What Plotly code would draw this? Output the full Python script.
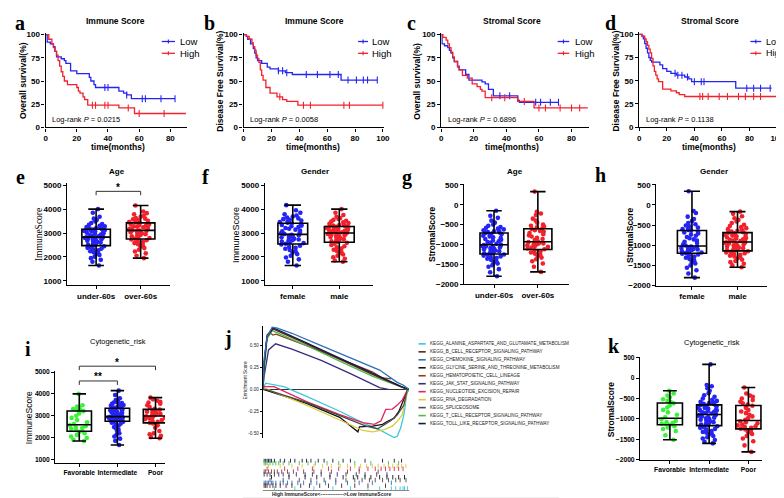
import numpy as np
import plotly.graph_objects as go

W, H = 784, 498
SANS = "Liberation Sans, Arial, sans-serif"
SERIF = "Liberation Serif, Times New Roman, serif"

# ---------------- KM data ----------------
a_low_t = [0, 1, 3, 5, 6, 7, 10, 12, 13, 16, 20, 28, 29, 31, 32, 47, 50, 52, 55, 83]
a_low_s = [100, 92, 90, 87, 82, 76, 74, 72, 69, 61, 58, 54, 50, 46, 43, 39, 37, 35, 31, 31]
a_low_c = [38, 40, 52, 62, 64, 74, 83]
a_high_t = [0, 2, 4, 5, 6, 7, 8, 9, 10, 11, 12, 14, 20, 21, 22, 24, 25, 27, 47, 57, 90]
a_high_s = [100, 95, 90, 86, 82, 78, 72, 66, 60, 55, 50, 46, 43, 39, 37, 33, 30, 24, 21, 15, 15]
a_high_c = [30, 32, 38, 40, 53, 60, 76]

b_low_t = [0, 2, 3, 5, 7, 8, 9, 10, 13, 17, 19, 25, 30, 35, 70, 96]
b_low_s = [100, 98, 95, 90, 85, 80, 75, 72, 69, 65, 63, 61, 59, 57, 51, 51]
b_low_c = [25, 28, 31, 45, 53, 62, 68, 75, 81, 86, 89, 96]
b_high_t = [0, 2, 4, 6, 7, 8, 9, 10, 11, 12, 13, 14, 16, 19, 24, 28, 31, 39, 100]
b_high_s = [100, 98, 95, 91, 87, 83, 78, 74, 70, 62, 56, 51, 43, 37, 33, 30, 28, 24, 24]
b_high_c = [26, 43, 48, 72, 76, 100]

c_low_t = [0, 0.5, 2, 4, 5, 6, 7, 8, 10, 11, 15, 17, 25, 27, 29, 32, 47, 48, 72]
c_low_s = [100, 90, 88, 86, 83, 80, 75, 71, 66, 62, 57, 51, 49, 47, 41, 34, 29, 27, 27]
c_low_c = [36, 42, 58, 61, 67, 72]
c_high_t = [0, 1, 3, 4, 5, 6, 7, 8, 10, 11, 13, 16, 19, 22, 24, 25, 27, 47, 57, 90]
c_high_s = [100, 97, 94, 90, 86, 81, 76, 71, 65, 62, 56, 53, 47, 44, 41, 39, 32, 28, 21, 21]
c_high_c = [31, 39, 51, 60, 64, 73, 80, 85]

d_low_t = [0, 2, 3, 4, 5, 6, 7, 8, 9, 15, 17, 20, 23, 27, 33, 36, 38, 70, 96]
d_low_s = [100, 98, 95, 90, 85, 80, 75, 72, 70, 67, 63, 60, 58, 56, 54, 52, 49, 42, 42]
d_low_c = [26, 28, 31, 35, 40, 45, 47, 78, 83, 88, 95]
d_high_t = [0, 2, 4, 5, 6, 7, 8, 9, 10, 11, 12, 13, 14, 17, 23, 27, 29, 33, 100]
d_high_s = [100, 98, 95, 92, 88, 84, 80, 74, 66, 60, 56, 52, 49, 41, 39, 37, 35, 33, 33]
d_high_c = [44, 46, 50, 58, 64, 72, 77, 83, 88, 100]

km_titles = ["Immune Score", "Immune Score", "Stromal Score", "Stromal Score"]
km_ylabels = ["Overall survival(%)", "Disease Free Survival(%)", "Overall survival(%)", "Disease Free Survival(%)"]
km_pvalues = ["0.0215", "0.0058", "0.6896", "0.1138"]
km_legend = ["Low", "High"]

# ---------------- box data ----------------
age_cats = ["under-60s", "over-60s"]
gender_cats = ["female", "male"]
risk_cats = ["Favorable", "Intermediate", "Poor"]

e_under = [1640,1800,1880,1950,2010,2080,2120,2150,2200,2240,2280,2310,2350,2380,2420,2450,
           2480,2510,2540,2560,2600,2620,2650,2680,2700,2720,2740,2760,2780,2790,2810,2820,
           2840,2860,2890,2910,2940,2960,2990,3010,3040,3060,3080,3090,3110,3120,3140,3150,
           3170,3180,3200,3230,3250,3280,3300,3340,3380,3420,3480,3550,3600,3680,3850,4000]
e_over = [1950,2050,2150,2230,2300,2370,2430,2480,2530,2580,2620,2660,2700,2730,
          2760,2790,2820,2860,2890,2920,2950,2980,3010,3030,3050,3070,3090,3100,
          3120,3140,3170,3190,3210,3240,3260,3280,3310,3330,3360,3380,3400,3420,
          3440,3460,3490,3510,3540,3570,3600,3630,3680,3720,3780,3830,3900,4150]
f_female = [1640,1800,1900,1980,2050,2120,2180,2240,2290,2340,2380,2420,2470,2520,
            2550,2580,2610,2640,2670,2700,2730,2760,2790,2820,2850,2880,2910,2930,
            2960,2990,3030,3070,3100,3140,3180,3210,3250,3280,3310,3340,3370,3400,
            3430,3460,3490,3520,3550,3580,3610,3650,3690,3730,3780,3850,3950,4165]
f_male = [1800,1850,1920,1990,2050,2100,2150,2200,2250,2300,2350,2400,2450,2500,2550,2590,
          2620,2650,2680,2710,2740,2770,2800,2830,2860,2880,2900,2920,2940,2960,2980,2990,
          3010,3030,3050,3070,3090,3110,3130,3150,3170,3190,3210,3220,3230,3250,3260,3270,
          3290,3310,3330,3360,3390,3420,3450,3480,3510,3550,3590,3630,3680,3750,3850,4000]
g_under = [-1800,-1700,-1620,-1560,-1520,-1480,-1450,-1420,-1390,-1360,-1340,-1320,-1300,-1280,-1260,-1250,
           -1235,-1220,-1200,-1185,-1170,-1150,-1135,-1120,-1100,-1090,-1075,-1060,-1050,-1040,-1025,-1015,
           -1000,-980,-960,-940,-920,-900,-880,-860,-840,-820,-800,-780,-760,-745,-730,-715,
           -700,-685,-670,-655,-640,-620,-600,-580,-560,-530,-500,-450,-400,-330,-280,-150]
g_over = [-1690,-1560,-1480,-1420,-1370,-1330,-1290,-1260,-1230,-1200,-1170,-1145,
          -1120,-1100,-1080,-1060,-1040,-1020,-1000,-990,-975,-960,-950,-940,
          -920,-890,-860,-830,-800,-770,-740,-710,-680,-660,-640,-610,
          -590,-570,-550,-530,-500,-450,-400,-350,-260,-220,-180,330]
h_female = [-1805,-1700,-1620,-1560,-1500,-1450,-1410,-1370,-1340,-1310,-1280,-1250,-1230,-1210,
            -1195,-1180,-1165,-1150,-1135,-1120,-1105,-1090,-1080,-1070,-1060,-1050,-1040,-1030,
            -1005,-975,-945,-915,-885,-855,-825,-795,-765,-735,-705,-680,-660,-640,
            -620,-600,-580,-560,-535,-510,-480,-450,-400,-350,-290,-200,-150,340]
h_male = [-1545,-1500,-1460,-1420,-1390,-1360,-1330,-1300,-1280,-1260,-1240,-1220,-1200,-1180,-1165,-1150,
          -1135,-1120,-1105,-1090,-1075,-1060,-1045,-1030,-1015,-1000,-985,-970,-955,-945,-935,-925,
          -910,-895,-880,-865,-850,-835,-820,-805,-790,-775,-760,-745,-730,-715,-700,-690,
          -675,-660,-640,-620,-600,-575,-550,-520,-490,-450,-410,-370,-330,-280,-220,-165]
i_fav = [1840,1900,1980,2050,2120,2200,2260,2300,2350,2400,2440,2480,2520,2560,
         2620,2700,2800,2900,3000,3100,3210,3250,3280,3310,3350,3420,3480,4000]
i_int = [1660,1850,1950,2050,2130,2200,2280,2350,2420,2480,2540,2590,2640,2680,2710,2730,
         2750,2770,2790,2810,2830,2850,2860,2870,2880,2890,2900,2910,2920,2930,2940,2950,
         2970,2990,3010,3040,3070,3100,3130,3160,3190,3210,3230,3250,3270,3290,3320,3340,
         3360,3380,3400,3430,3460,3490,3520,3550,3580,3610,3640,3680,3720,3800,3950,4150]
i_poor = [1970,2020,2080,2150,2200,2300,2450,2560,2650,2680,2720,2760,2800,2840,2880,2910,2940,2970,
          3000,3040,3080,3110,3150,3180,3220,3250,3280,3320,3400,3480,3550,3600,3640,3690,3750,3830]
k_fav = [-1510,-1400,-1300,-1250,-1210,-1180,-1150,-1140,-1130,-1120,-1100,-1080,-1050,-1010,
         -960,-900,-840,-780,-720,-670,-620,-590,-560,-520,-470,-430,-380,-310]
k_int = [-1600,-1560,-1520,-1480,-1450,-1420,-1390,-1360,-1340,-1320,-1300,-1270,-1250,-1220,-1200,-1180,
         -1160,-1140,-1120,-1100,-1080,-1060,-1040,-1020,-1000,-985,-970,-955,-940,-925,-910,-900,
         -885,-870,-855,-840,-825,-810,-795,-780,-765,-750,-735,-720,-705,-690,-675,-660,
         -645,-630,-615,-600,-580,-560,-530,-500,-460,-420,-370,-310,-250,-200,-170,335]
k_poor = [-1810,-1650,-1550,-1480,-1420,-1370,-1330,-1290,-1260,-1240,-1220,-1200,-1180,-1160,-1140,-1110,-1085,-1060,
          -1020,-980,-940,-900,-860,-820,-780,-730,-680,-650,-620,-580,-540,-500,-460,-430,-380,-230]

# ---------------- GSEA data ----------------
pathways = ["KEGG_ALANINE_ASPARTATE_AND_GLUTAMATE_METABOLISM", "KEGG_B_CELL_RECEPTOR_SIGNALING_PATHWAY",
            "KEGG_CHEMOKINE_SIGNALING_PATHWAY", "KEGG_GLYCINE_SERINE_AND_THREONINE_METABOLISM",
            "KEGG_HEMATOPOIETIC_CELL_LINEAGE", "KEGG_JAK_STAT_SIGNALING_PATHWAY",
            "KEGG_NUCLEOTIDE_EXCISION_REPAIR", "KEGG_RNA_DEGRADATION", "KEGG_SPLICEOSOME",
            "KEGG_T_CELL_RECEPTOR_SIGNALING_PATHWAY", "KEGG_TOLL_LIKE_RECEPTOR_SIGNALING_PATHWAY"]
pathway_colors = ["#3cc8dc", "#5a2626", "#2f6fb8", "#141414", "#8a4222", "#3a2a80",
                  "#e3245e", "#d8cc3c", "#4a4a4a", "#4cbb48", "#15193f"]

es_x_alanine = [0, 2, 14.4, 30, 52.7, 70.7, 79.7, 85.4, 89.9, 92.1, 94.4, 96.6, 98.9, 100]
es_y_alanine = [0, 0.07, 0.03, -0.08, -0.25, -0.40, -0.46, -0.515, -0.55, -0.535, -0.44, -0.29, -0.01, 0]
es_x_bcell = [0, 1, 3, 7, 30, 53, 75, 96, 100]
es_y_bcell = [0, 0.28, 0.60, 0.69, 0.52, 0.34, 0.17, 0.02, 0]
es_x_chemokine = [0, 1, 3, 6.5, 10, 20, 40, 60, 80, 92, 96, 100]
es_y_chemokine = [0, 0.35, 0.60, 0.71, 0.70, 0.64, 0.50, 0.36, 0.22, 0.08, 0.05, 0]
es_x_glycine = [0, 2, 30, 52.7, 65.1, 66.2, 75.2, 82, 85.4, 89.9, 93.2, 97.7, 100]
es_y_glycine = [0, -0.01, -0.16, -0.32, -0.485, -0.43, -0.42, -0.40, -0.365, -0.33, -0.25, -0.065, 0]
es_x_hemato = [0, 1, 3, 5.5, 7, 9, 30, 53, 75, 82, 88]
es_y_hemato = [0, 0.30, 0.60, 0.64, 0.62, 0.63, 0.50, 0.35, 0.20, 0.13, 0.12]
es_x_jak = [0, 1, 4, 8.8, 20, 40, 60, 73, 80, 86]
es_y_jak = [0, 0.15, 0.45, 0.52, 0.46, 0.33, 0.18, 0.07, 0.02, 0]
es_x_nucleotide = [0, 1, 7.7, 30, 52.7, 68.5, 76.4, 80.9, 84.2, 88.7, 92.1, 95.5, 98.9, 100]
es_y_nucleotide = [0, 0.03, 0.03, -0.14, -0.29, -0.38, -0.40, -0.36, -0.23, -0.225, -0.18, -0.12, -0.01, 0]
es_x_rna = [0, 2, 7.7, 30, 52.7, 68.5, 75.2, 83.1, 88.7, 92.1, 95.5, 98.9, 100]
es_y_rna = [0, 0.01, -0.03, -0.18, -0.35, -0.47, -0.485, -0.46, -0.42, -0.365, -0.29, -0.03, 0]
es_x_splice = [0, 2, 30, 52.7, 70.7, 78.6, 83.1, 87.6, 92.1, 96.6, 98.9, 100]
es_y_splice = [0, 0.0, -0.15, -0.30, -0.42, -0.45, -0.40, -0.36, -0.29, -0.18, 0, 0]
es_x_tcell = [0, 1, 3, 6.5, 30, 53, 75, 96, 100]
es_y_tcell = [0, 0.22, 0.58, 0.67, 0.50, 0.32, 0.15, 0.02, -0.01]
es_x_toll = [0, 1, 3, 7.5, 30, 53, 75, 95, 100]
es_y_toll = [0, 0.30, 0.62, 0.70, 0.53, 0.35, 0.18, 0.03, 0]

hits_alanine = [8, 22, 35, 48, 60, 72, 80, 88, 91, 94, 96, 97, 99]
hits_bcell = [1, 2, 3, 5, 7, 9, 12, 16, 20, 26, 32, 39, 45, 54, 63, 72, 84]
hits_chemokine = [1, 2, 3, 4, 6, 7, 9, 12, 14, 17, 20, 24, 28, 33, 37, 43, 50, 58, 66, 75, 88]
hits_glycine = [6, 18, 29, 37, 46, 55, 62, 65, 70, 74, 80, 85, 89, 93, 97]
hits_hemato = [1, 2, 4, 6, 8, 10, 13, 17, 21, 28, 35, 40, 47, 58, 66, 79]
hits_jak = [1, 3, 5, 8, 11, 14, 18, 23, 29, 34, 40, 46, 51, 57, 64, 70, 78, 85]
hits_nucleotide = [3, 15, 24, 34, 45, 52, 60, 66, 72, 77, 81, 84, 87, 90, 93, 96]
hits_rna = [4, 12, 20, 27, 35, 41, 47, 53, 58, 63, 67, 71, 75, 79, 83, 86, 89, 92, 95, 98]
hits_splice = [5, 14, 25, 33, 42, 50, 57, 63, 68, 73, 77, 82, 86, 91, 94, 98]
hits_tcell = [1, 2, 3, 5, 7, 9, 11, 14, 18, 25, 31, 36, 44, 52, 63, 74, 86, 93]
hits_toll = [1, 2, 3, 4, 5, 6, 8, 12, 15, 19, 22, 27, 30, 33, 38, 42, 48, 55, 60, 70, 82, 90, 95]
rug_row_order = [10, 9, 7, 6, 4, 5, 3, 8, 2, 1, 0]

BLUE, RED, GREEN = "#2424f4", "#f2222c", "#3cf03c"

# ---------------- helpers ----------------
def lin(p0, v0, p1, v1, v):
    return p0 + (v - v0) * (p1 - p0) / (v1 - v0)

def xdom(p0, v0, p1, v1, r):
    return [lin(p0, v0, p1, v1, r[0]) / W, lin(p0, v0, p1, v1, r[1]) / W]

def ydom(p0, v0, p1, v1, r):
    return [1 - lin(p0, v0, p1, v1, r[0]) / H, 1 - lin(p0, v0, p1, v1, r[1]) / H]

def px(x):
    return x / W

def py(y):
    return 1 - y / H

def sfx(n):
    return "" if n == 1 else str(n)

fig = go.Figure()
layout = dict(width=W, height=H, margin=dict(l=0, r=0, t=0, b=0), paper_bgcolor="white",
              plot_bgcolor="white", showlegend=False, boxmode="overlay")
annotations, shapes = [], []

def axis_style(size=8, bold=True):
    return dict(showline=True, linecolor="black", linewidth=1.3, ticks="outside", ticklen=3,
                tickwidth=1.2, tickcolor="black", showgrid=False, zeroline=False, tickangle=0,
                tickfont=dict(family=SANS, size=size, color="black", weight="bold" if bold else "normal"))

def add_text(text, x, y, size, family=SANS, bold=False, angle=0, xanchor="center", italic=False, color="black"):
    annotations.append(dict(text=text, x=px(x), y=py(y), xref="paper", yref="paper", showarrow=False,
                            xanchor=xanchor, yanchor="middle", textangle=angle,
                            font=dict(family=family, size=size, color=color,
                                      weight="bold" if bold else "normal",
                                      style="italic" if italic else "normal")))

def add_line(x0, y0, x1, y1, color="black", width=1.2):
    shapes.append(dict(type="line", xref="paper", yref="paper", x0=px(x0), y0=py(y0),
                       x1=px(x1), y1=py(y1), line=dict(color=color, width=width)))

# ---------------- KM panels ----------------
km_specs = [
    (1, (36, 0, 162, 80), [0, 90.5], (118.3, 0, 24, 100), [0, 80]),
    (2, (236, 0, 376.7, 100), [0, 101], (118.3, 0, 24, 100), [0, 100]),
    (3, (435.7, 0, 567.3, 80), [0, 90.5], (118.3, 0, 24, 100), [0, 80]),
    (4, (635.7, 0, 775, 100), [0, 101], (118, 0, 23.7, 100), [0, 100]),
]
km_data = [
    [(a_low_t, a_low_s, a_low_c), (a_high_t, a_high_s, a_high_c)],
    [(b_low_t, b_low_s, b_low_c), (b_high_t, b_high_s, b_high_c)],
    [(c_low_t, c_low_s, c_low_c), (c_high_t, c_high_s, c_high_c)],
    [(d_low_t, d_low_s, d_low_c), (d_high_t, d_high_s, d_high_c)],
]
km_pos = [  # title_x, ylabel_x, xlabel_x, legend line x0, x1, text x, pval x, letter x, letter, legend font
    (107, 13.3, 109, 153.3, 166.7, 169.5, 40, 10, "a", 9.5),
    (308, 212, 306, 351.7, 361.7, 363.5, 240, 202, "b", 9.5),
    (507, 411, 507, 553.3, 565, 569, 440, 406, "c", 9.5),
    (707, 612, 706, 748, 759, 762, 641, 607, "d", 9),
]
yr_km = [0, 102]
for k, (n, xs, xr, ys, xt) in enumerate(km_specs):
    s = sfx(n)
    xa = axis_style(8)
    xa.update(domain=xdom(*xs, xr), range=xr, anchor="y" + s, tickmode="array",
              tickvals=list(range(xt[0], xt[1] + 1, 20)))
    ya = axis_style(8)
    ya.update(domain=ydom(*ys, yr_km), range=yr_km, anchor="x" + s, tickvals=[0, 25, 50, 75, 100])
    layout["xaxis" + s] = xa
    layout["yaxis" + s] = ya
    for (t, sv, cens), col in zip(km_data[k], [BLUE, RED]):
        fig.add_trace(go.Scatter(x=t, y=sv, mode="lines", line=dict(color=col, width=1.3, shape="hv"),
                                 xaxis="x" + s, yaxis="y" + s, hoverinfo="skip"))
        ta = np.array(t)
        cy = [sv[int(np.searchsorted(ta, c, side="right")) - 1] for c in cens]
        fig.add_trace(go.Scatter(x=cens, y=cy, mode="markers",
                                 marker=dict(symbol="line-ns", size=5, line=dict(width=1.1, color=col)),
                                 xaxis="x" + s, yaxis="y" + s, hoverinfo="skip"))
    tx, ylx, xlx, l0, l1, ltx, pvx, letx, let, lfs = km_pos[k]
    add_text(km_titles[k], tx, 9.7, 8.5, bold=True)
    add_text(km_ylabels[k], ylx, 71, 8.5, bold=True, angle=-90)
    add_text("time(months)", xlx, 138.5, 8.5, bold=True)
    add_text("Log-rank <i>P</i> = " + km_pvalues[k], pvx, 110.5, 7.5, xanchor="left")
    add_text(let, letx, 12, 20, family=SERIF, bold=True)
    for lab, col, yy in zip(km_legend, [BLUE, RED], [31, 43]):
        add_line(l0, yy, l1, yy, col, 1.3)
        add_line((l0 + l1) / 2, yy - 2, (l0 + l1) / 2, yy + 2, col, 1.1)
        add_text(lab, ltx, yy, lfs, xanchor="left")

# ---------------- box panels ----------------
box_specs = [
    (5, (87, 0, 132, 1), [-0.65, 1.66], (274.3, 1000, 177, 5000), [820, 5080], age_cats,
     [e_under, e_over], [BLUE, RED], [1000, 2000, 3000, 4000, 5000], "Age", (108, 163),
     "ImmuneScore", (30, 227), (SERIF, 9.5, False), ("e", 11, 169), 8),
    (6, (285.7, 0, 332.7, 1), [-0.6, 1.72], (274.3, 1000, 177, 5000), [820, 5080], gender_cats,
     [f_female, f_male], [BLUE, RED], [1000, 2000, 3000, 4000, 5000], "Gender", (308, 163),
     "ImmuneScore", (229, 228), (SANS, 9, False), ("f", 198, 169), 8),
    (7, (489, 0, 533.3, 1), [-0.68, 1.72], (277.7, -2000, 176.7, 500), [-2000, 520], age_cats,
     [g_under, g_over], [BLUE, RED], [-2000, -1500, -1000, -500, 0, 500], "Age", (510, 163),
     "StromalScore", (427, 227), (SANS, 8.5, True), ("g", 401, 169), 8),
    (8, (689, 0, 735, 1), [-0.78, 1.65], (279, -2000, 176.7, 500), [-2000, 520], gender_cats,
     [h_female, h_male], [BLUE, RED], [-2000, -1500, -1000, -500, 0, 500], "Gender", (711, 163),
     "StromalScore", (627, 228), (SANS, 8.5, True), ("h", 597, 167), 8),
    (9, (70, 0, 147, 2), [-0.63, 2.25], (455.7, 1000, 367, 5000), [850, 5050], risk_cats,
     [i_fav, i_int, i_poor], [GREEN, BLUE, RED], [1000, 2000, 3000, 4000, 5000], "Cytogenetic_risk",
     (109, 336), "ImmuneScore", (20, 413), (SANS, 8.5, False), ("i", 18, 344), 6.7),
    (12, (666.7, 0, 746, 2), [-0.76, 2.35], (456, -2000, 352.3, 500), [-2000, 515], risk_cats,
     [k_fav, k_int, k_poor], [GREEN, BLUE, RED], [-2000, -1500, -1000, -500, 0, 500], "Cytogenetic_risk",
     (709, 337), "StromalScore", (608, 405), (SANS, 8.5, True), ("k", 610, 340), 6.7),
]
BW = 0.64
for (n, xs, xr, ys, yr, cats, groups, cols, yt, title, tpos, ylab, ypos, yfont, letter, fs) in box_specs:
    s = sfx(n)
    xa = axis_style(fs)
    xa.update(domain=xdom(*xs, xr), range=xr, anchor="y" + s, type="category",
              categoryorder="array", categoryarray=cats)
    ya = axis_style(fs)
    ya.update(domain=ydom(*ys, yr), range=yr, anchor="x" + s, tickvals=yt)
    layout["xaxis" + s] = xa
    layout["yaxis" + s] = ya
    for cat, vals, col in zip(cats, groups, cols):
        fig.add_trace(go.Box(x=[cat] * len(vals), y=vals, boxpoints="all", jitter=0.9, pointpos=0,
                             width=BW, line=dict(width=0, color="rgba(0,0,0,0)"),
                             fillcolor="rgba(0,0,0,0)", marker=dict(color=col, size=4.6),
                             xaxis="x" + s, yaxis="y" + s, hoverinfo="skip"))
    for cat, vals in zip(cats, groups):
        arr = np.array(vals, dtype=float)
        q1, med, q3 = np.percentile(arr, [25, 50, 75])
        fig.add_trace(go.Box(x=[cat], q1=[q1], median=[med], q3=[q3], lowerfence=[arr.min()],
                             upperfence=[arr.max()], width=BW, whiskerwidth=0.55, boxpoints=False,
                             line=dict(color="black", width=1.6), fillcolor="rgba(0,0,0,0)",
                             xaxis="x" + s, yaxis="y" + s, hoverinfo="skip"))
    add_text(title, tpos[0], tpos[1], 7.5 if n in (9, 12) else 8, bold=n not in (9, 12))
    add_text(ylab, ypos[0], ypos[1], yfont[1], family=yfont[0], bold=yfont[2], angle=-90)
    add_text(letter[0], letter[1], letter[2], 20, family=SERIF, bold=True)

# significance brackets
def cat_px(xs, c):
    return lin(xs[0], xs[1], xs[2], xs[3], c)

e_xs = box_specs[0][1]
add_line(cat_px(e_xs, 0), 183.3, cat_px(e_xs, 1), 183.3, "#333", 1)
add_line(cat_px(e_xs, 0), 183.3, cat_px(e_xs, 0), 187.3, "#333", 1)
add_line(cat_px(e_xs, 1), 183.3, cat_px(e_xs, 1), 187.3, "#333", 1)
add_text("*", (cat_px(e_xs, 0) + cat_px(e_xs, 1)) / 2, 179, 10, bold=True)
i_xs = box_specs[4][1]
for c0, c1, yb, star, ys_ in [(0, 2, 361, "*", 357), (0, 1, 376, "**", 371.5)]:
    add_line(cat_px(i_xs, c0), yb, cat_px(i_xs, c1), yb, "#333", 1)
    add_line(cat_px(i_xs, c0), yb, cat_px(i_xs, c0), yb + 4, "#333", 1)
    add_line(cat_px(i_xs, c1), yb, cat_px(i_xs, c1), yb + 4, "#333", 1)
    add_text(star, (cat_px(i_xs, c0) + cat_px(i_xs, c1)) / 2, ys_, 10, bold=True)

# ---------------- GSEA panel j ----------------
es_x = [es_x_alanine, es_x_bcell, es_x_chemokine, es_x_glycine, es_x_hemato, es_x_jak,
        es_x_nucleotide, es_x_rna, es_x_splice, es_x_tcell, es_x_toll]
es_y = [es_y_alanine, es_y_bcell, es_y_chemokine, es_y_glycine, es_y_hemato, es_y_jak,
        es_y_nucleotide, es_y_rna, es_y_splice, es_y_tcell, es_y_toll]
hits = [hits_alanine, hits_bcell, hits_chemokine, hits_glycine, hits_hemato, hits_jak,
        hits_nucleotide, hits_rna, hits_splice, hits_tcell, hits_toll]

jx = (255.3, 0, 403, 100)
jxr = [0, 100]
jyr = [-0.56, 0.725]
layout["xaxis10"] = dict(domain=xdom(*jx, jxr), range=jxr, anchor="y10", showline=False,
                         showticklabels=False, ticks="", showgrid=False, zeroline=False)
layout["yaxis10"] = dict(domain=ydom(429, -0.5, 340, 0.5, jyr), range=jyr, anchor="x10", showline=True,
                         linecolor="black", linewidth=1, ticks="outside", ticklen=2, tickwidth=0.8,
                         tickcolor="black", showgrid=False, zeroline=True, zerolinecolor="#333",
                         zerolinewidth=0.9, tickvals=[-0.5, -0.25, 0, 0.25, 0.5],
                         ticktext=["-0.50", "-0.25", "0.00", "0.25", "0.50"],
                         tickfont=dict(family=SANS, size=4.6, color="#222"))
draw_order = [0, 3, 6, 7, 8, 5, 4, 9, 1, 10, 2]
for idx in draw_order:
    fig.add_trace(go.Scatter(x=es_x[idx], y=es_y[idx], mode="lines",
                             line=dict(color=pathway_colors[idx], width=1.3),
                             xaxis="x10", yaxis="y10", hoverinfo="skip"))
# rug
layout["xaxis11"] = dict(domain=xdom(*jx, jxr), range=jxr, anchor="y11", showline=True,
                         linecolor="#888", linewidth=1, showticklabels=False, ticks="",
                         showgrid=False, zeroline=False)
layout["yaxis11"] = dict(domain=[py(487), py(455)], range=[10.6, -0.6], anchor="x11", showline=False,
                         showticklabels=False, ticks="", showgrid=False, zeroline=False)
for row, idx in enumerate(rug_row_order):
    fig.add_trace(go.Scatter(x=hits[idx], y=[row] * len(hits[idx]), mode="markers",
                             marker=dict(symbol="line-ns", size=3.2,
                                         line=dict(width=0.9, color=pathway_colors[idx])),
                             xaxis="x11", yaxis="y11", hoverinfo="skip"))
add_text("High ImmuneScore<-------------->Low ImmuneScore", 325, 491, 5, bold=True, color="#222")
add_line(235, 495, 555, 495, "#dddddd", 1.2)
add_text("Enrichment Score", 238, 376, 4.8, angle=-90, color="#222")
add_text("j", 220, 333, 20, family=SERIF, bold=True)
for i, (name, col) in enumerate(zip(pathways, pathway_colors)):
    yy = 338.3 + 8.1 * i
    add_line(412.7, yy, 420, yy, col, 1.6)
    add_text(name, 422.3, yy, 4.6, xanchor="left", color="#222")

layout["annotations"] = annotations
layout["shapes"] = shapes
fig.update_layout(**layout)
fig.write_html("out.html")
